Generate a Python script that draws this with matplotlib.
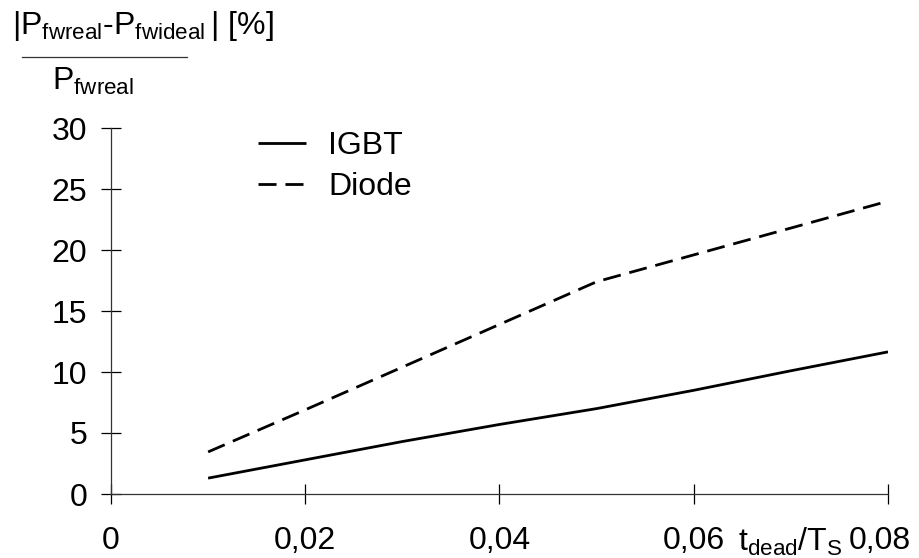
import numpy as np
import matplotlib
matplotlib.use('Agg')
import matplotlib.pyplot as plt
import matplotlib.transforms as mtransforms

plt.rcParams['font.family'] = ['Liberation Sans', 'DejaVu Sans']
plt.rcParams['mathtext.fontset'] = 'custom'
plt.rcParams['mathtext.rm'] = 'Liberation Sans'

# data
t_ratio = [0.01, 0.02, 0.03, 0.04, 0.05, 0.06, 0.07, 0.08]
igbt = [1.3, 2.8, 4.3, 5.7, 7.0, 8.5, 10.1, 11.65]
diode = [3.45, 6.9, 10.4, 13.9, 17.4, 19.6, 21.8, 24.0]

x_ticks = [0, 0.02, 0.04, 0.06, 0.08]
x_ticklabels = ['0', '0,02', '0,04', '0,06', '0,08']
y_ticks = [0, 5, 10, 15, 20, 25, 30]

FS = 23
W, H = 920, 558
fig = plt.figure(figsize=(W / 100, H / 100), dpi=100)
ax = fig.add_axes([111 / W, 1 - 494 / H, (888 - 111) / W, (494 - 128) / H])

ax.plot(t_ratio, igbt, color='black', lw=2.0, label='IGBT', solid_capstyle='butt')
ax.plot(t_ratio, diode, color='black', lw=2.0, label='Diode', dashes=(6.5, 3.2))

ax.set_xlim(0, 0.08)
ax.set_ylim(0, 30)
ax.set_xticks(x_ticks)
ax.set_xticklabels(x_ticklabels)
ax.set_yticks(y_ticks)

for s in ['top', 'right']:
    ax.spines[s].set_visible(False)
for s in ['left', 'bottom']:
    ax.spines[s].set_linewidth(0.9)
    ax.spines[s].set_color('#333333')
ax.spines['left'].set_bounds(0, 30)

ax.tick_params(axis='both', direction='inout', length=14, width=0.9,
               labelsize=FS, colors='black')
ax.tick_params(axis='y', pad=10)
ax.tick_params(axis='x', pad=16)

# last x tick label sits a bit left of its tick
last = ax.get_xticklabels()[-1]
last.set_transform(last.get_transform() +
                   mtransforms.ScaledTranslation(-8 / 100, 0, fig.dpi_scale_trans))

# x label sits just left of the last tick label
fig.text(843 / W, 1 - 542 / H, r'$\mathregular{t_{dead}/T_S}$', fontsize=FS,
         ha='right', va='center')

# y label as a fraction
fig.text(12 / W, 1 - 26 / H, r'$\mathregular{|P_{fwreal}}$-$\mathregular{P_{fwideal}\,|}$ [%]',
         fontsize=FS, ha='left', va='center')
fig.add_artist(plt.Line2D([22 / W, 187 / W], [1 - 57 / H, 1 - 57 / H],
                          color='#333333', lw=0.9))
fig.text(52 / W, 1 - 81 / H, r'$\mathregular{P_{fwreal}}$', fontsize=FS,
         ha='left', va='center')

leg = ax.legend(loc='upper left', bbox_to_anchor=(258 / W, 1 - 131 / H),
                bbox_transform=fig.transFigure, frameon=False, fontsize=FS,
                handlelength=1.5, handletextpad=0.7, labelspacing=0.35,
                borderaxespad=0, borderpad=0)

fig.savefig('out.png', dpi=100)
